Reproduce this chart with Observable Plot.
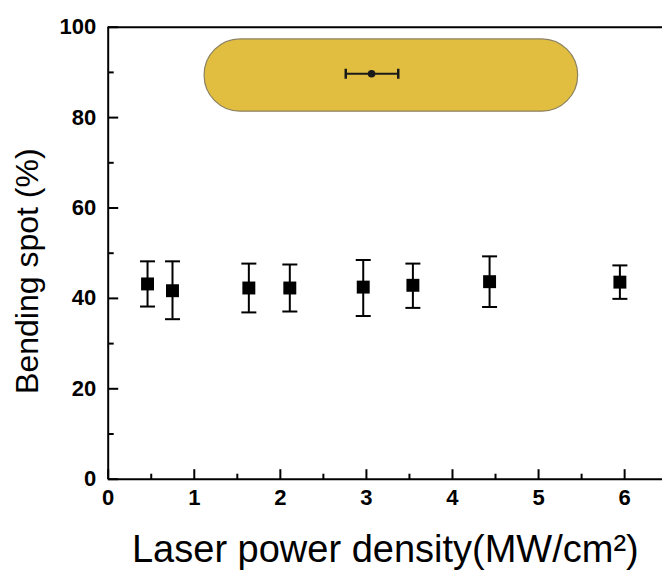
<!DOCTYPE html>
<html>
<head>
<meta charset="utf-8">
<script src="https://cdn.jsdelivr.net/npm/d3@7"></script>
<script src="https://cdn.jsdelivr.net/npm/@observablehq/plot@0.6"></script>
<style>
  html, body { margin: 0; padding: 0; background: #fff; }
  #chart svg { display: block; }
</style>
</head>
<body>
<div id="chart"></div>
<script>
// Data
const powerDensity = [0.457, 0.747, 1.634, 2.110, 2.963, 3.540, 4.431, 5.945];
const bendingSpot  = [43.2, 41.7, 42.3, 42.3, 42.5, 42.9, 43.7, 43.6];
const errUpper     = [48.2, 48.2, 47.7, 47.5, 48.5, 47.7, 49.3, 47.3];
const errLower     = [38.2, 35.4, 36.9, 37.1, 36.1, 37.9, 38.1, 39.9];

// Inset illustration (pill with a horizontal error bar), in data units
const insetXRange = [1.12, 5.46];
const insetYRange = [81.3, 97.3];
const insetBarX = [2.76, 3.06, 3.37]; // low, centre, high
const insetBarY = [89.7];

// Axis ticks and titles
const xMajorTicks = [0, 1, 2, 3, 4, 5, 6];
const xMinorTicks = [0.5, 1.5, 2.5, 3.5, 4.5, 5.5];
const yMajorTicks = [0, 20, 40, 60, 80, 100];
const yMinorTicks = [10, 30, 50, 70, 90];
const xTitle = "Laser power density(MW/cm²)";
const yTitle = "Bending spot (%)";

const data = powerDensity.map((x, i) => ({x, y: bendingSpot[i], hi: errUpper[i], lo: errLower[i]}));

const capH = {draw(ctx) { ctx.moveTo(-7.5, 0); ctx.lineTo(7.5, 0); }};
const capV = {draw(ctx) { ctx.moveTo(0, -5); ctx.lineTo(0, 5); }};

const chart = Plot.plot({
  width: 662,
  height: 570,
  marginLeft: 107.7,
  marginRight: 0,
  marginTop: 26.7,
  marginBottom: 91.3,
  style: {fontFamily: "'Liberation Sans', Arial, sans-serif", background: "#fff", color: "#000"},
  x: {domain: [0, 6.44], label: null, axis: null},
  y: {domain: [0, 100], label: null, axis: null},
  marks: [
    // inset illustration
    Plot.rect([0], {x1: () => insetXRange[0], x2: () => insetXRange[1], y1: () => insetYRange[0], y2: () => insetYRange[1],
      rx: 36, fill: "#E1BE3F", stroke: "#8c8262", strokeWidth: 1.2}),
    Plot.ruleY(insetBarY, {x1: insetBarX[0], x2: insetBarX[2], y: d => d, stroke: "#1a1a1a", strokeWidth: 2}),
    Plot.dot([insetBarX[0], insetBarX[2]], {x: d => d, y: insetBarY[0], symbol: capV, stroke: "#1a1a1a", strokeWidth: 2.5, fill: "none"}),
    Plot.dot([insetBarX[1]], {x: d => d, y: insetBarY[0], r: 3.8, fill: "#1a1a1a", stroke: "none"}),

    // inward ticks, drawn as short spikes from the axes
    Plot.dot(yMajorTicks, {x: 0, y: d => d, symbol: {draw(c) { c.moveTo(0, 0); c.lineTo(10, 0); }}, stroke: "#000", strokeWidth: 2, fill: "none"}),
    Plot.dot(yMinorTicks, {x: 0, y: d => d, symbol: {draw(c) { c.moveTo(0, 0); c.lineTo(5.5, 0); }}, stroke: "#000", strokeWidth: 2, fill: "none"}),
    Plot.dot(xMajorTicks, {x: d => d, y: 0, symbol: {draw(c) { c.moveTo(0, 0); c.lineTo(0, -10); }}, stroke: "#000", strokeWidth: 2, fill: "none"}),
    Plot.dot(xMinorTicks, {x: d => d, y: 0, symbol: {draw(c) { c.moveTo(0, 0); c.lineTo(0, -5.5); }}, stroke: "#000", strokeWidth: 2, fill: "none"}),

    // tick labels
    Plot.text(yMajorTicks, {x: 0, y: d => d, text: d => String(d), dx: -12, textAnchor: "end",
      fontSize: 22, fontWeight: "bold", fill: "#000"}),
    Plot.text(xMajorTicks, {x: d => d, y: 0, text: d => String(d), dy: 19,
      fontSize: 22, fontWeight: "bold", fill: "#000"}),

    // frame lines (left, bottom, top)
    Plot.ruleX([0], {stroke: "#000", strokeWidth: 2}),
    Plot.ruleY([0, 100], {stroke: "#000", strokeWidth: 2}),

    // error bars
    Plot.ruleX(data, {x: "x", y1: "lo", y2: "hi", stroke: "#000", strokeWidth: 2}),
    Plot.dot(data, {x: "x", y: "hi", symbol: capH, stroke: "#000", strokeWidth: 2, fill: "none"}),
    Plot.dot(data, {x: "x", y: "lo", symbol: capH, stroke: "#000", strokeWidth: 2, fill: "none"}),
    Plot.dot(data, {x: "x", y: "y", symbol: "square", r: 7.3, fill: "#000", stroke: "none"}),

    // axis titles
    Plot.text([xTitle], {frameAnchor: "bottom", lineAnchor: "bottom", dy: 83, fontSize: 38, fill: "#000", textAnchor: "middle"}),
    Plot.text([yTitle], {frameAnchor: "left", lineAnchor: "middle", rotate: -90, dx: -80, dy: 18, fontSize: 32, fill: "#000", textAnchor: "middle"})
  ]
});
document.getElementById("chart").appendChild(chart);
</script>
</body>
</html>
